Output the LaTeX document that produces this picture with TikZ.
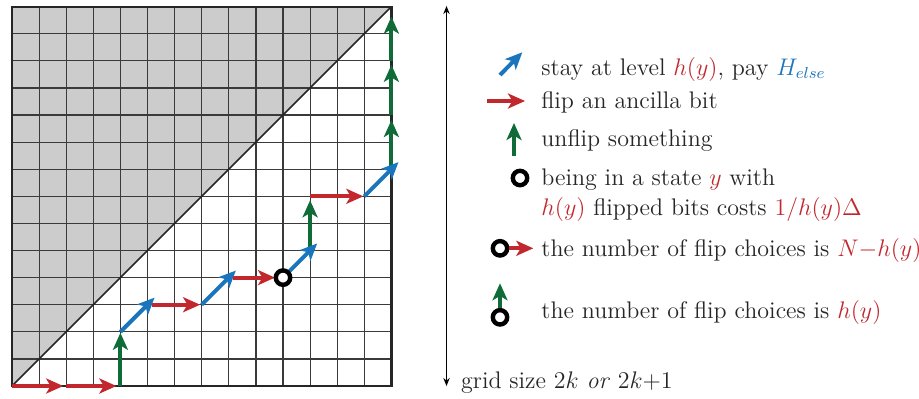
\documentclass[tikz,border=0pt]{standalone}
\usetikzlibrary{arrows.meta}
\definecolor{cred}{HTML}{C1272D}
\definecolor{cblue}{HTML}{1B75BC}
\definecolor{cgreen}{HTML}{0F6B38}
\definecolor{cgray}{HTML}{CCCCCC}
\definecolor{cgrid}{HTML}{3A3A3A}
\tikzset{
  mv/.style={line width=2pt,-{Stealth[length=8.5pt,width=7.5pt,inset=2.2pt]}},
  redmv/.style={mv,cred},
  bluemv/.style={mv,cblue},
  greenmv/.style={mv,cgreen},
  statecirc/.style={circle,draw=black,fill=white,line width=2.2pt,minimum size=7.2pt,inner sep=0pt},
  gridline/.style={cgrid,line width=0.6pt},
  lbl/.style={anchor=base west,inner sep=0pt,text=black!85},
}
\begin{document}
\begin{tikzpicture}[x=0.5pt,y=-0.5pt,font=\fontsize{12}{14}\selectfont]
\useasboundingbox (0,0) rectangle (919,398);
\begin{scope}[shift={(12,386)},x=13.55pt,y=13.55pt]
  \fill[cgray] (0,0) -- (14,14) -- (0,14) -- cycle;
  \foreach \i in {1,...,13} {
    \draw[gridline] (\i,0) -- (\i,14);
    \draw[gridline] (0,\i) -- (14,\i);
  }
  \draw[black!85,line width=1.1pt] (0,0) rectangle (14,14);
  \draw[black!85,line width=0.8pt] (0,0) -- (14,14);
  \coordinate (a0) at (0,0);
  \coordinate (a1) at (2,0);
  \coordinate (a2) at (4,0);
  \coordinate (a3) at (4,2);
  \coordinate (a4) at (5,3);
  \coordinate (a5) at (7,3);
  \coordinate (a6) at (8,4);
  \coordinate (a7) at (10,4);
  \coordinate (a8) at (11,5);
  \coordinate (a9) at (11,7);
  \coordinate (a10) at (13,7);
  \coordinate (a11) at (14,8);
  \coordinate (a12) at (14,10);
  \coordinate (a13) at (14,12);
  \coordinate (a14) at (14,14);
  % red moves
  \draw[redmv,shorten >=1.5pt] (a0) -- (a1);
  \draw[redmv,shorten >=2pt] (a1) -- (a2);
  \draw[redmv,shorten <=2pt,shorten >=0.8pt] (a4) -- (a5);
  \draw[redmv,shorten <=2pt,shorten >=4pt] (a6) -- (a7);
  \draw[redmv,shorten >=0.5pt] (a9) -- (a10);
  % green moves
  \draw[greenmv,shorten >=0.5pt] (a2) -- (a3);
  \draw[greenmv,shorten <=2pt,shorten >=2pt] (a8) -- (a9);
  \draw[greenmv,shorten >=2.5pt] (a11) -- (a12);
  \draw[greenmv,shorten >=2pt] (a12) -- (a13);
  \draw[greenmv,shorten >=5pt] (a13) -- (a14);
  % blue moves
  \draw[bluemv,shorten >=-5pt] (a3) -- (a4);
  \draw[bluemv,shorten >=-5pt] (a5) -- (a6);
  \draw[bluemv,shorten <=3pt,shorten >=-5pt] (a7) -- (a8);
  \draw[bluemv,shorten >=-5pt] (a10) -- (a11);
  \node[statecirc] (s0) at (a7) {};
\end{scope}
% size arrow
\coordinate (vtop) at (446.5,6);
\coordinate (vbot) at (446.5,386);
\draw[black,line width=0.7pt,{Stealth[length=4pt,width=3.2pt]}-{Stealth[length=4pt,width=3.2pt]}] (vtop) -- (vbot);
\node[lbl] (tsize) at (460.7,388.3) {grid size $2k$ \textit{or} $2k{+}1$};
% legend
\coordinate (b1s) at (500,75);
\coordinate (b1e) at (522.3,52.3);
\draw[bluemv] (b1s) -- (b1e);
\node[lbl] (t1) at (541,75) {stay at level \textcolor{cred}{$h(y)$}, pay \textcolor{cblue}{$H_{else}$}};
\coordinate (r1s) at (487,101);
\coordinate (r1e) at (525,101);
\draw[redmv] (r1s) -- (r1e);
\node[lbl] (t2) at (541,108.3) {flip an ancilla bit};
\coordinate (g1s) at (514,156);
\coordinate (g1e) at (514,123);
\draw[greenmv] (g1s) -- (g1e);
\node[lbl] (t3) at (541,146.7) {unflip something};
\node[statecirc] (c1) at (520,178) {};
\node[lbl] (t4) at (541,185) {being in a state \textcolor{cred}{$y$} with};
\node[lbl] (t4b) at (541,215) {\textcolor{cred}{$h(y)$} flipped bits costs \textcolor{cred}{$1/h(y)\Delta$}};
\node[statecirc] (c2) at (500,248.3) {};
\coordinate (r2e) at (533.3,248.3);
\draw[redmv] (c2) -- (r2e);
\node[lbl] (t5) at (541,256.7) {the number of flip choices is \textcolor{cred}{$N{-}h(y)$}};
\node[statecirc] (c3) at (500,317.3) {};
\coordinate (g2e) at (500,283.3);
\draw[greenmv] (c3) -- (g2e);
\node[lbl] (t6) at (541,318.3) {the number of flip choices is \textcolor{cred}{$h(y)$}};
\end{tikzpicture}
\end{document}
